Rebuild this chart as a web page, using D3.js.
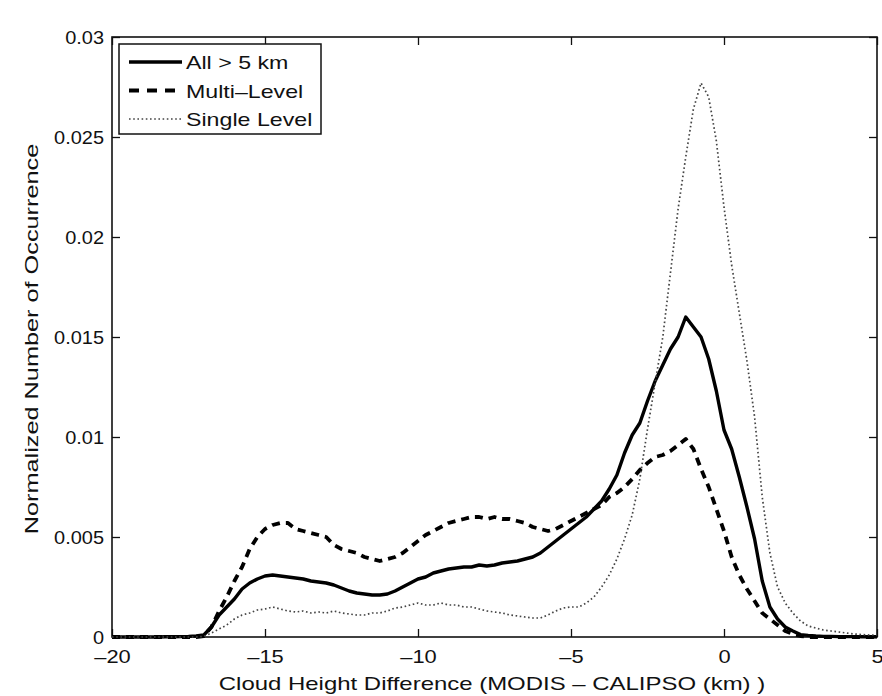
<!DOCTYPE html>
<html>
<head>
<meta charset="utf-8">
<script src="https://cdn.jsdelivr.net/npm/d3@7"></script>
<style>
  body { margin: 0; background: #fff; }
  svg text { font-family: "Liberation Sans", Arial, sans-serif; fill: #111; }
</style>
</head>
<body>
<svg id="chart" width="882" height="696"></svg>
<script>

// x grid: -20 .. 5 km, step 0.25
const xStep   = 0.25;
const xStart  = -20;

// All > 5 km (solid)
const allValues = [
  0, 0, 0, 0, 0, 0, 0, 0.00001, 0.00001, 0.00002, 0.00003, 0.00005,
  0.0001, 0.0005, 0.0011, 0.0015, 0.0019, 0.0024, 0.0027, 0.0029, 0.00305, 0.0031,
  0.00305, 0.003, 0.00295, 0.0029, 0.0028, 0.00275, 0.0027, 0.0026, 0.00245, 0.0023,
  0.0022, 0.00215, 0.0021, 0.0021, 0.00215, 0.0023, 0.0025, 0.0027, 0.0029, 0.003,
  0.0032, 0.0033, 0.0034, 0.00345, 0.0035, 0.0035, 0.0036, 0.00355, 0.0036, 0.0037,
  0.00375, 0.0038, 0.0039, 0.004, 0.0042, 0.0045, 0.0048, 0.0051, 0.0054, 0.0057,
  0.006, 0.0064, 0.0068, 0.0074, 0.0081, 0.0092, 0.0101, 0.0107, 0.0118, 0.0128,
  0.0136, 0.0144, 0.015, 0.016, 0.0155, 0.015, 0.0139, 0.0123, 0.01035, 0.0094,
  0.008, 0.0065, 0.0049, 0.0028, 0.0015, 0.0009, 0.0005, 0.0003, 0.00012, 0.00008,
  0.00005, 0.00003, 0.00003, 0.00002, 0.00002, 0.00002, 0.00001, 0.00001, 0.00001
];

// Multi-Level (dashed)
const multiValues = [
  0, 0, 0, 0, 0, 0, 0, 0, 0, 0, 0, 0,
  0.00005, 0.0005, 0.0013, 0.002, 0.0028, 0.0035, 0.0044, 0.005, 0.0054, 0.0056,
  0.0057, 0.0057, 0.0054, 0.0053, 0.0052, 0.0051, 0.005, 0.0046, 0.0044, 0.0043,
  0.0042, 0.004, 0.0039, 0.0038, 0.0039, 0.004, 0.0042, 0.0045, 0.0048, 0.0051,
  0.0053, 0.0055, 0.0057, 0.0058, 0.0059, 0.006, 0.006, 0.0059, 0.006, 0.0059,
  0.0059, 0.0058, 0.0057, 0.0055, 0.0054, 0.0053, 0.0054, 0.0056, 0.0058, 0.006,
  0.0062, 0.0064, 0.0066, 0.007, 0.0072, 0.0075, 0.0079, 0.00835, 0.0087, 0.009,
  0.0091, 0.0093, 0.0096, 0.0099, 0.0094, 0.0084, 0.0075, 0.0064, 0.0053, 0.004,
  0.0031, 0.0024, 0.0018, 0.0012, 0.0009, 0.0006, 0.0003, 0.00015, 0.00005, 0,
  0, 0, 0, 0, 0, 0, 0, 0, 0
];

// Single Level (dotted)
const singleValues = [
  0, 0, 0, 0, 0, 0, 0, 0, 0, 0, 0, 0,
  0.00003, 0.0002, 0.0004, 0.0006, 0.0009, 0.0011, 0.0012, 0.00135, 0.0014, 0.0015,
  0.0014, 0.0013, 0.00125, 0.0013, 0.0012, 0.00125, 0.0012, 0.0013, 0.0012, 0.00115,
  0.0011, 0.0011, 0.0012, 0.0012, 0.0013, 0.00145, 0.0015, 0.0016, 0.0017, 0.0016,
  0.0016, 0.0017, 0.0016, 0.0016, 0.0015, 0.0015, 0.0014, 0.0013, 0.00125, 0.0012,
  0.0011, 0.00105, 0.001, 0.00095, 0.00095, 0.0011, 0.0013, 0.00145, 0.0015, 0.0015,
  0.0017, 0.002, 0.0025, 0.0031, 0.0039, 0.0049, 0.0061, 0.0079, 0.0104, 0.0127,
  0.015, 0.0182, 0.0214, 0.024, 0.0264, 0.0277, 0.027, 0.0248, 0.0215, 0.0186,
  0.0162, 0.0138, 0.011, 0.007, 0.0042, 0.0025, 0.0017, 0.0012, 0.0008, 0.00055,
  0.00045, 0.00035, 0.0003, 0.00025, 0.0002, 0.00015, 0.00012, 0.0001, 0.0001
];

const xTicks = [-20, -15, -10, -5, 0, 5];
const yTicks = [0, 0.005, 0.01, 0.015, 0.02, 0.025, 0.03];

const seriesNames = ['All > 5 km', 'Multi\u2013Level', 'Single Level'];


const svg    = d3.select('#chart');
const margin = { top: 37, right: 5, bottom: 59, left: 112 };
const width  = +svg.attr('width') - margin.left - margin.right;
const height = +svg.attr('height') - margin.top - margin.bottom;
const fontSize = 19;

const x = d3.scaleLinear().domain([-20, 5]).range([0, width]);
const y = d3.scaleLinear().domain([0, 0.03]).range([height, 0]);

const g = svg.append('g')
  .attr('transform', `translate(${margin.left},${margin.top})`);

const fmtX = d => d < 0 ? '\u2013' + Math.abs(d) : String(d);
const fmtY = d => String(+d.toFixed(4));

// the scanned figure has wide-ish lettering; stretch text along its baseline
function stretch(sel, factor) {
  sel.each(function() {
    const len = this.getComputedTextLength();
    d3.select(this)
      .attr('textLength', len * factor)
      .attr('lengthAdjust', 'spacingAndGlyphs');
  });
}

// axes, ticks pointing inward (matlab box)
const styleAxis = sel => {
  sel.select('.domain').remove();
  sel.selectAll('.tick line').attr('stroke', '#111').attr('stroke-width', 1.3);
  sel.selectAll('.tick text')
    .attr('font-size', fontSize)
    .attr('font-family', '"Liberation Sans", Arial, sans-serif')
    .attr('fill', '#111');
};

const xAxisG = g.append('g')
  .attr('transform', `translate(0,${height})`)
  .call(d3.axisBottom(x).tickValues(xTicks).tickFormat(fmtX).tickSizeInner(-8).tickPadding(13))
  .call(styleAxis);

g.append('g')
  .call(d3.axisTop(x).tickValues(xTicks).tickFormat('').tickSizeInner(-8))
  .call(styleAxis);

const yAxisG = g.append('g')
  .call(d3.axisLeft(y).tickValues(yTicks).tickFormat(fmtY).tickSizeInner(-8).tickPadding(8))
  .call(styleAxis);

g.append('g')
  .attr('transform', `translate(${width},0)`)
  .call(d3.axisRight(y).tickValues(yTicks).tickFormat('').tickSizeInner(-8))
  .call(styleAxis);

stretch(xAxisG.selectAll('.tick text'), 1.15);
stretch(yAxisG.selectAll('.tick text'), 1.05);

g.append('rect')
  .attr('width', width)
  .attr('height', height)
  .attr('fill', 'none')
  .attr('stroke', '#111')
  .attr('stroke-width', 1.6);

// lines
const styles = [
  { width: 3.4, dash: null,      color: '#000' },
  { width: 3.8, dash: '8,6',     color: '#000' },
  { width: 1.7, dash: '1.6,2.6', color: '#444' }
];

const allSeries = [allValues, multiValues, singleValues];

const line = d3.line()
  .x((d, i) => x(xStart + i * xStep))
  .y(d => y(d));

allSeries.forEach(function(vals, k) {
  g.append('path')
    .datum(vals)
    .attr('fill', 'none')
    .attr('stroke', styles[k].color)
    .attr('stroke-width', styles[k].width)
    .attr('stroke-dasharray', styles[k].dash)
    .attr('stroke-linejoin', 'round')
    .attr('d', line);
});

// legend
const legend = g.append('g').attr('transform', 'translate(7,7)');

legend.append('rect')
  .attr('width', 202)
  .attr('height', 90)
  .attr('fill', '#fff')
  .attr('stroke', '#111')
  .attr('stroke-width', 1.5);

seriesNames.forEach(function(name, k) {
  const ly = 18 + k * 28.5;
  legend.append('line')
    .attr('x1', 10).attr('x2', 63)
    .attr('y1', ly).attr('y2', ly)
    .attr('stroke', styles[k].color)
    .attr('stroke-width', styles[k].width)
    .attr('stroke-dasharray', k === 1 ? '10,8' : styles[k].dash);
  legend.append('text')
    .attr('x', 67)
    .attr('y', ly + 7)
    .attr('font-size', fontSize)
    .text(name)
    .call(stretch, 1.22);
});

// axis titles
svg.append('text')
  .attr('x', 492)
  .attr('y', 690)
  .attr('text-anchor', 'middle')
  .attr('font-size', fontSize)
  .text('Cloud Height Difference (MODIS \u2013 CALIPSO (km) )')
  .call(stretch, 1.26);

svg.append('text')
  .attr('transform', `translate(38,${margin.top + height / 2 + 2}) rotate(-90)`)
  .attr('text-anchor', 'middle')
  .attr('font-size', fontSize)
  .text('Normalized Number of Occurrence')
  .call(stretch, 1.33);

</script>
</body>
</html>
